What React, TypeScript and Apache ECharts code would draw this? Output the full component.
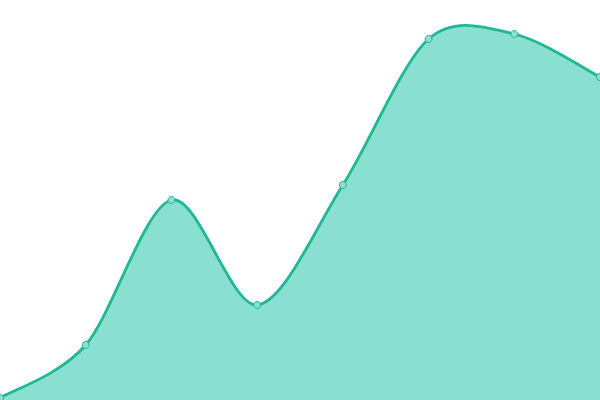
import React, { useEffect, useRef } from 'react';
import * as echarts from 'echarts';

// x categories (8 evenly spaced points, no labels shown)
const categories = ['1', '2', '3', '4', '5', '6', '7', '8'];
const values = [2, 55, 200, 95, 215, 361, 366, 323];

const LINE = '#1fb795';
const FILL = '#8ae0d0';

// catmull-rom style spline, drawn through the axis coords
const splinePath = (pts: number[][]) => {
  const k = 0.155;
  const n = pts.length;
  const tan = pts.map((_, i) => {
    const a = pts[Math.max(i - 1, 0)];
    const b = pts[Math.min(i + 1, n - 1)];
    return [(b[0] - a[0]) * k, (b[1] - a[1]) * k];
  });
  let d = `M${pts[0][0]},${pts[0][1]}`;
  for (let i = 0; i < n - 1; i++) {
    const c1 = [pts[i][0] + tan[i][0], pts[i][1] + tan[i][1]];
    const c2 = [pts[i + 1][0] - tan[i + 1][0], pts[i + 1][1] - tan[i + 1][1]];
    d += `C${c1[0]},${c1[1]},${c2[0]},${c2[1]},${pts[i + 1][0]},${pts[i + 1][1]}`;
  }
  return d;
};

const App: React.FC = () => {
  const chartRef = useRef<HTMLDivElement>(null);

  useEffect(() => {
    if (!chartRef.current) return;
    const myChart = echarts.init(chartRef.current, undefined, { renderer: 'svg' });

    myChart.setOption({
      animation: false,
      grid: { left: 0, right: 0, top: 0, bottom: 0 },
      xAxis: {
        type: 'category',
        boundaryGap: false,
        data: categories,
        show: false
      },
      yAxis: {
        type: 'value',
        min: 0,
        max: 400,
        show: false
      },
      series: [
        {
          type: 'custom',
          data: values,
          z: 1,
          silent: true,
          renderItem: (params: any, api: any) => {
            if (params.dataIndex !== 0) return null;
            const pts = values.map((v, i) => api.coord([i, v]));
            const base = api.coord([0, 0])[1];
            const line = splinePath(pts);
            const last = pts[pts.length - 1];
            const area = `${line}L${last[0]},${base}L${pts[0][0]},${base}Z`;
            return {
              type: 'group',
              children: [
                {
                  type: 'path',
                  shape: { pathData: area },
                  style: { fill: FILL, stroke: null }
                },
                {
                  type: 'path',
                  shape: { pathData: line },
                  style: { fill: null, stroke: LINE, lineWidth: 2.8 }
                }
              ]
            };
          }
        },
        {
          type: 'line',
          data: values,
          z: 3,
          symbol: 'circle',
          symbolSize: 7,
          itemStyle: {
            color: '#8ce0d0',
            borderColor: LINE,
            borderWidth: 1
          },
          lineStyle: { width: 0, opacity: 0 }
        }
      ]
    });

    return () => {
      myChart.dispose();
    };
  }, []);

  return (
    <div
      ref={chartRef}
      style={{ position: 'fixed', left: 0, top: 0, width: '600px', height: '400px' }}
    />
  );
};

export default App;
